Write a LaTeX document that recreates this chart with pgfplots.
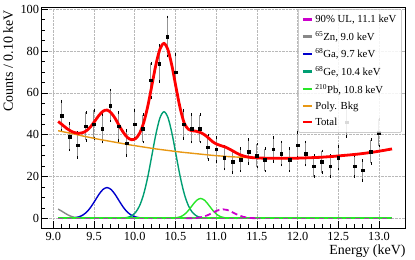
\documentclass[border=0pt]{standalone}
\usepackage{pgfplots}
\pgfplotsset{compat=1.18}
\usepackage{fontspec}
\setmainfont{Liberation Serif}
\definecolor{ulc}{RGB}{204,0,204}
\definecolor{znc}{RGB}{136,136,136}
\definecolor{gac}{RGB}{0,0,204}
\definecolor{gec}{RGB}{0,158,115}
\definecolor{pbc}{RGB}{40,230,40}
\definecolor{bkgc}{RGB}{232,152,20}
\definecolor{totc}{RGB}{255,0,0}
\begin{document}
\begin{tikzpicture}
\begin{axis}[
  scale only axis, width=364bp, height=220.7bp,
  xmin=8.858, xmax=13.328, ymin=-4.64, ymax=100.96,
  xtick={9,9.5,10,10.5,11,11.5,12,12.5,13},
  ytick={0,20,40,60,80,100},
  minor x tick num=4, minor y tick num=3,
  tick align=inside, xtick pos=bottom, ytick pos=left,
  major tick length=6.5bp, minor tick length=3.5bp,
  tick style={black, line width=0.6bp},
  grid=major, major grid style={densely dotted, gray!55, line width=0.5bp},
  axis line style={line width=0.8bp},
  /pgf/number format/assume math mode=true,
  xticklabel={\pgfmathprintnumber[fixed,fixed zerofill,precision=1]{\tick}},
  ticklabel style={font=\fontsize{12.4}{14}\selectfont},
  xticklabel style={inner ysep=4.5bp},
  yticklabel style={inner xsep=2.4bp},
  xlabel={Energy (keV)},
  ylabel={Counts / 0.10 keV},
  xlabel style={at={(axis description cs:1,-0.077)}, anchor=north east, inner sep=0pt, font=\fontsize{14}{16}\selectfont},
  ylabel style={at={(axis description cs:-0.078,0.988)}, anchor=south east, inner sep=0pt, font=\fontsize{14}{16}\selectfont},
  legend style={at={(0.989,0.991)}, anchor=north east, draw=gray!60, line width=0.5bp, fill=white, fill opacity=0.85, text opacity=1, draw opacity=1, rounded corners=1bp, font=\fontsize{10.8}{12}\selectfont, inner xsep=3bp, inner ysep=3.5bp, row sep=3.2pt},
  legend cell align=left,
  legend image code/.code={\draw[#1,line width=2.4bp] (0bp,0bp) -- (9.3bp,0bp);},
]
\addlegendimage{ulc}\addlegendentry{90\% UL, 11.1 keV}
\addlegendimage{znc}\addlegendentry{\textsuperscript{65}Zn, 9.0 keV}
\addlegendimage{gac}\addlegendentry{\textsuperscript{68}Ga, 9.7 keV}
\addlegendimage{gec}\addlegendentry{\textsuperscript{68}Ge, 10.4 keV}
\addlegendimage{pbc}\addlegendentry{\textsuperscript{210}Pb, 10.8 keV}
\addlegendimage{bkgc}\addlegendentry{Poly. Bkg}
\addlegendimage{totc}\addlegendentry{Total}

% data points
\addplot[forget plot, only marks, mark=square*, mark size=1.3bp, black,
  error bars/.cd, y dir=both, y explicit, error mark=-,
  error bar style={gray!85, line width=1bp},
  error mark options={black, line width=0.5bp, mark size=1.3bp}]
coordinates {
(9.1,49) +- (0,7.00) (9.2,39) +- (0,6.24) (9.3,35) +- (0,5.92) (9.4,44) +- (0,6.63)
(9.5,45) +- (0,6.71) (9.6,43) +- (0,6.56) (9.7,54) +- (0,7.35) (9.8,44) +- (0,6.63)
(9.9,36) +- (0,6.00) (10.0,45) +- (0,6.71) (10.1,43) +- (0,6.56) (10.2,66) +- (0,8.12)
(10.3,74) +- (0,8.60) (10.4,87) +- (0,9.33) (10.5,70) +- (0,8.37) (10.6,45) +- (0,6.71)
(10.7,43) +- (0,6.56) (10.8,43) +- (0,6.56) (10.9,34) +- (0,5.83) (11.0,33) +- (0,5.74)
(11.1,29) +- (0,5.39) (11.2,27) +- (0,5.20) (11.3,28) +- (0,5.29) (11.4,32) +- (0,5.66)
(11.5,30) +- (0,5.48) (11.6,28) +- (0,5.29) (11.7,33) +- (0,5.74) (11.8,31) +- (0,5.57)
(11.9,28) +- (0,5.29) (12.0,35) +- (0,5.92) (12.1,31) +- (0,5.57) (12.2,25) +- (0,5.00)
(12.3,27) +- (0,5.20) (12.4,25) +- (0,5.00) (12.5,29) +- (0,5.39) (12.6,46) +- (0,6.78)
(12.7,25) +- (0,5.00) (12.8,23) +- (0,4.80) (12.9,32) +- (0,5.66) (13.0,41) +- (0,6.40)
};

% 65Zn
\addplot[forget plot, znc, line width=1.4bp, smooth] coordinates {
(9.06,4.41) (9.11,3.29) (9.16,2.06) (9.21,1.08) (9.26,0.48) (9.31,0.18) (9.36,0.06) (9.41,0.01) (9.46,0)};
\addplot[forget plot, znc, line width=1.4bp] coordinates {(9.46,0) (13.16,0)};
% 68Ga
\addplot[forget plot, gac, line width=1.4bp] coordinates {(9.06,0) (13.16,0)};
\addplot[forget plot, gac, line width=1.4bp, smooth] coordinates {
(9.11,0) (9.16,0.025) (9.21,0.08) (9.26,0.25) (9.31,0.65) (9.36,1.48) (9.41,2.98) (9.46,5.29)
(9.51,8.28) (9.56,11.39) (9.61,13.79) (9.66,14.7) (9.71,13.79) (9.76,11.39) (9.81,8.28)
(9.86,5.29) (9.91,2.98) (9.96,1.48) (10.01,0.65) (10.06,0.25) (10.11,0.08) (10.16,0.025) (10.21,0)};
% 68Ge
\addplot[forget plot, gec, line width=1.4bp] coordinates {(9.06,0) (13.16,0)};
\addplot[forget plot, gec, line width=1.4bp, smooth] coordinates {
(9.76,0) (9.81,0.04) (9.86,0.13) (9.91,0.41) (9.96,1.14) (10.01,2.77) (10.06,6.0) (10.11,11.53)
(10.16,19.69) (10.21,29.89) (10.26,40.19) (10.31,48.04) (10.36,51) (10.41,48.04) (10.46,40.19)
(10.51,29.89) (10.56,19.69) (10.61,11.53) (10.66,6.0) (10.71,2.77) (10.76,1.14) (10.81,0.41)
(10.86,0.13) (10.91,0.04) (10.96,0)};
% 210Pb
\addplot[forget plot, pbc, line width=1.8bp] coordinates {(9.06,0) (13.16,0)};
\addplot[forget plot, pbc, line width=1.4bp, smooth] coordinates {
(10.36,0) (10.41,0.01) (10.46,0.06) (10.51,0.23) (10.56,0.72) (10.61,1.82) (10.66,3.75) (10.71,6.29)
(10.76,8.57) (10.81,9.5) (10.86,8.57) (10.91,6.29) (10.96,3.75) (11.01,1.82) (11.06,0.72)
(11.11,0.23) (11.16,0.06) (11.21,0.01) (11.26,0)};
% 90% UL
\addplot[forget plot, ulc!35!gray, line width=0.7bp, dash pattern=on 5bp off 4bp] coordinates {(9.06,0) (13.16,0)};
\addplot[forget plot, ulc, line width=1.8bp, dash pattern=on 6bp off 3.5bp, smooth] coordinates {
(10.635,0) (10.685,0.038) (10.735,0.115) (10.785,0.30) (10.835,0.68) (10.885,1.32) (10.935,2.21)
(10.985,3.20) (11.035,3.99) (11.085,4.3) (11.135,3.99) (11.185,3.20) (11.235,2.21) (11.285,1.32)
(11.335,0.68) (11.385,0.30) (11.435,0.115) (11.485,0.038) (11.535,0)};
% Poly. Bkg
\addplot[forget plot, bkgc, line width=1.4bp, smooth] coordinates {
(9.06,41.9) (9.16,41.1) (9.26,40.3) (9.36,39.4) (9.46,38.6) (9.56,37.8) (9.66,37.1) (9.76,36.4)
(9.86,35.7) (9.96,35.0) (10.06,34.4) (10.16,33.8) (10.26,33.2) (10.36,32.7) (10.46,32.2)
(10.56,31.7) (10.66,31.3) (10.76,30.9) (10.86,30.5) (10.96,30.1) (11.06,29.8) (11.16,29.5)
(11.26,29.3) (11.36,29.1) (11.46,28.9) (11.56,28.8) (11.66,28.75) (11.76,28.7) (11.86,28.7)
(11.96,28.75) (12.06,28.85) (12.16,29.0) (12.26,29.15) (12.36,29.4) (12.46,29.7) (12.56,30.05)
(12.66,30.4) (12.76,30.8) (12.86,31.3) (12.96,31.85) (13.06,32.5) (13.16,33.2)};
% Total
\addplot[forget plot, totc, line width=2.8bp, smooth] coordinates {
(9.06,46.31) (9.11,44.79) (9.16,43.16) (9.21,41.86) (9.26,41.03) (9.31,40.63) (9.36,40.94)
(9.41,41.98) (9.46,43.89) (9.51,46.48) (9.56,49.19) (9.61,51.19) (9.66,51.8) (9.71,50.49)
(9.76,47.79) (9.81,44.28) (9.86,41.12) (9.91,38.69) (9.96,37.62) (10.01,38.12) (10.06,40.65)
(10.11,45.71) (10.16,53.52) (10.21,63.39) (10.26,73.39) (10.31,80.94) (10.36,83.7) (10.41,80.45)
(10.46,72.45) (10.51,62.12) (10.56,52.41) (10.61,45.4) (10.66,42.6) (10.71,41.9) (10.76,41.6)
(10.81,41.0) (10.86,39.9) (10.91,38.3) (10.96,36.56) (11.01,35.46) (11.06,34.74) (11.11,34.15)
(11.16,33.2) (11.21,32.12) (11.26,31.04) (11.31,30.16) (11.36,29.56) (11.41,29.19) (11.46,28.97)
(11.51,28.92) (11.56,28.8) (11.66,28.75) (11.76,28.7) (11.86,28.7) (11.96,28.75) (12.06,28.85)
(12.16,29.0) (12.26,29.15) (12.36,29.4) (12.46,29.7) (12.56,30.05) (12.66,30.4) (12.76,30.8)
(12.86,31.3) (12.96,31.85) (13.06,32.5) (13.16,33.2)};
\end{axis}
\pgfresetboundingbox
\path[use as bounding box] ([shift={(-41.7bp,-32bp)}]current axis.south west) rectangle ([shift={(373.3bp,228bp)}]current axis.south west);
\end{tikzpicture}
\end{document}
